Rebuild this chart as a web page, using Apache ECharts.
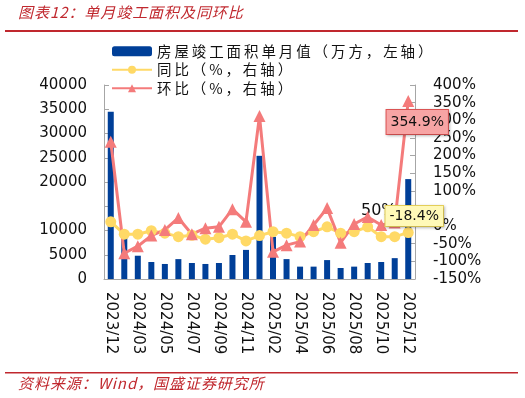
<!DOCTYPE html>
<html>
<head>
<meta charset="utf-8">
<script src="https://cdn.jsdelivr.net/npm/echarts@6/dist/echarts.min.js"></script>
<style>
  html, body { margin: 0; padding: 0; background: #fff; }
  #chart { width: 525px; height: 398px; }
</style>
</head>
<body>
<div id="chart"></div>
<script>
const categories = [
  "2023/12", "2024/02", "2024/03", "2024/04", "2024/05", "2024/06", "2024/07", "2024/08",
  "2024/09", "2024/10", "2024/11", "2024/12", "2025/02", "2025/03", "2025/04", "2025/05",
  "2025/06", "2025/07", "2025/08", "2025/09", "2025/10", "2025/11", "2025/12"
];
// 房屋竣工面积单月值（万方）
const areaMonthly = [
  34500, 8500, 4800, 3500, 3100, 4100, 3300, 3100, 3300, 4950, 6000, 25400,
  8700, 4100, 2550, 2550, 3900, 2270, 2550, 3300, 3500, 4300, 20600
];
// 同比 %
const yoy = [
  12, -23, -23, -13, -20, -30, -26, -37, -33, -23, -42, -27,
  -16, -20, -30, -16, -2, -20, -16, -2, -30, -30, -18.4
];
// 环比 %
const mom = [
  239, -77, -57, -27, -11, 23, -23, -6, -2, 48, 12, 312,
  -73, -54, -44, 3, 51, -47, 6, 26, 3, 10, 354.9
];

const RED = "#c0282e";
const FONT = "DejaVu Sans";
const CJK = "Noto Sans CJK SC";

const chart = echarts.init(document.getElementById("chart"), null, { renderer: "canvas" });

// only the last point gets a boxed label
const lastLabel = (arr, box) => arr.map((v, i) =>
  i === arr.length - 1 ? { value: v, label: box } : v
);
// the source chart uses loose letter spacing in its CJK text
const spaced = (s, gap) => s.split("").join(gap || "\u2009");

chart.setOption({
  animation: false,
  grid: { left: 104, right: 110, top: 85, bottom: 119, containLabel: false },
  legend: {
    orient: "vertical",
    left: 106,
    top: 39,
    itemWidth: 40,
    itemHeight: 10,
    itemGap: 4,
    formatter: (s) => spaced(s),
    textStyle: { fontFamily: CJK, fontSize: 14.5, color: "#111" },
    data: ["房屋竣工面积单月值（万方，左轴）", "同比（%，右轴）", "环比（%，右轴）"]
  },
  xAxis: {
    type: "category",
    data: categories,
    axisLine: { lineStyle: { color: "#a6a6a6" } },
    axisTick: { inside: true, length: 5, interval: 0, lineStyle: { color: "#a6a6a6" } },
    axisLabel: {
      interval: 1,
      rotate: -90,
      margin: 13,
      fontFamily: FONT,
      fontSize: 15,
      color: "#111"
    }
  },
  yAxis: [
    {
      type: "value",
      min: 0,
      max: 40000,
      interval: 5000,
      splitLine: { show: false },
      axisLine: { show: true, lineStyle: { color: "#a6a6a6" } },
      axisTick: { show: true, inside: true, length: 5, lineStyle: { color: "#a6a6a6" } },
      axisLabel: {
        margin: 17,
        fontFamily: FONT,
        fontSize: 15,
        color: "#111",
        formatter: (v) => (v === 15000 ? "" : String(v))
      }
    },
    {
      type: "value",
      min: -150,
      max: 400,
      interval: 50,
      splitLine: { show: false },
      axisLine: { show: true, lineStyle: { color: "#a6a6a6" } },
      axisTick: { show: true, inside: true, length: 5, lineStyle: { color: "#a6a6a6" } },
      axisLabel: {
        margin: 18,
        fontFamily: FONT,
        fontSize: 15,
        color: "#111",
        formatter: (v) => (v === 50 ? "" : v + "%")
      }
    }
  ],
  series: [
    {
      name: "房屋竣工面积单月值（万方，左轴）",
      type: "bar",
      data: areaMonthly,
      barWidth: 6,
      itemStyle: { color: "#003f98" }
    },
    {
      name: "同比（%，右轴）",
      type: "line",
      yAxisIndex: 1,
      data: lastLabel(yoy, {
        show: true,
        position: "top",
        offset: [6, 4],
        formatter: (p) => p.value + "%",
        fontFamily: FONT,
        fontSize: 14,
        color: "#111",
        backgroundColor: "#fff9b8",
        borderColor: "#e9d35c",
        borderWidth: 1,
        padding: [3, 4],
        shadowColor: "rgba(0,0,0,0.25)",
        shadowBlur: 3,
        shadowOffsetX: 1,
        shadowOffsetY: 1
      }),
      showAllSymbol: true,
      symbol: "circle",
      symbolSize: 11,
      lineStyle: { color: "#ffd966", width: 3 },
      itemStyle: { color: "#ffd966" }
    },
    {
      name: "环比（%，右轴）",
      type: "line",
      yAxisIndex: 1,
      data: lastLabel(mom, {
        show: true,
        position: "bottom",
        offset: [9, -2],
        formatter: (p) => p.value + "%",
        fontFamily: FONT,
        fontSize: 14,
        color: "#111",
        backgroundColor: "#f7a4a4",
        borderColor: "#e05555",
        borderWidth: 1,
        padding: [5, 4],
        shadowColor: "rgba(0,0,0,0.25)",
        shadowBlur: 3,
        shadowOffsetX: 1,
        shadowOffsetY: 1
      }),
      showAllSymbol: true,
      symbol: "triangle",
      symbolSize: 12,
      lineStyle: { color: "#f47b7b", width: 3 },
      itemStyle: { color: "#f47b7b" }
    }
  ],
  graphic: [
    {
      type: "text",
      left: 18,
      top: 5,
      style: {
        text: spaced("图表12：单月竣工面积及同环比", "\u200a"),
        font: "italic 15px 'Noto Sans CJK SC'",
        fill: RED
      }
    },
    {
      type: "rect",
      shape: { x: 5, y: 30, width: 513, height: 2 },
      style: { fill: RED }
    },
    {
      type: "text",
      left: 361,
      top: 203,
      style: { text: "50%", font: "16px 'DejaVu Sans'", fill: "#111" }
    },
    {
      type: "rect",
      shape: { x: 5, y: 372, width: 513, height: 1.5 },
      style: { fill: RED }
    },
    {
      type: "text",
      left: 18,
      top: 376,
      style: {
        text: spaced("资料来源：Wind，国盛证券研究所", "\u200a"),
        font: "italic 15px 'Noto Sans CJK SC'",
        fill: RED
      }
    }
  ]
});
</script>
</body>
</html>
